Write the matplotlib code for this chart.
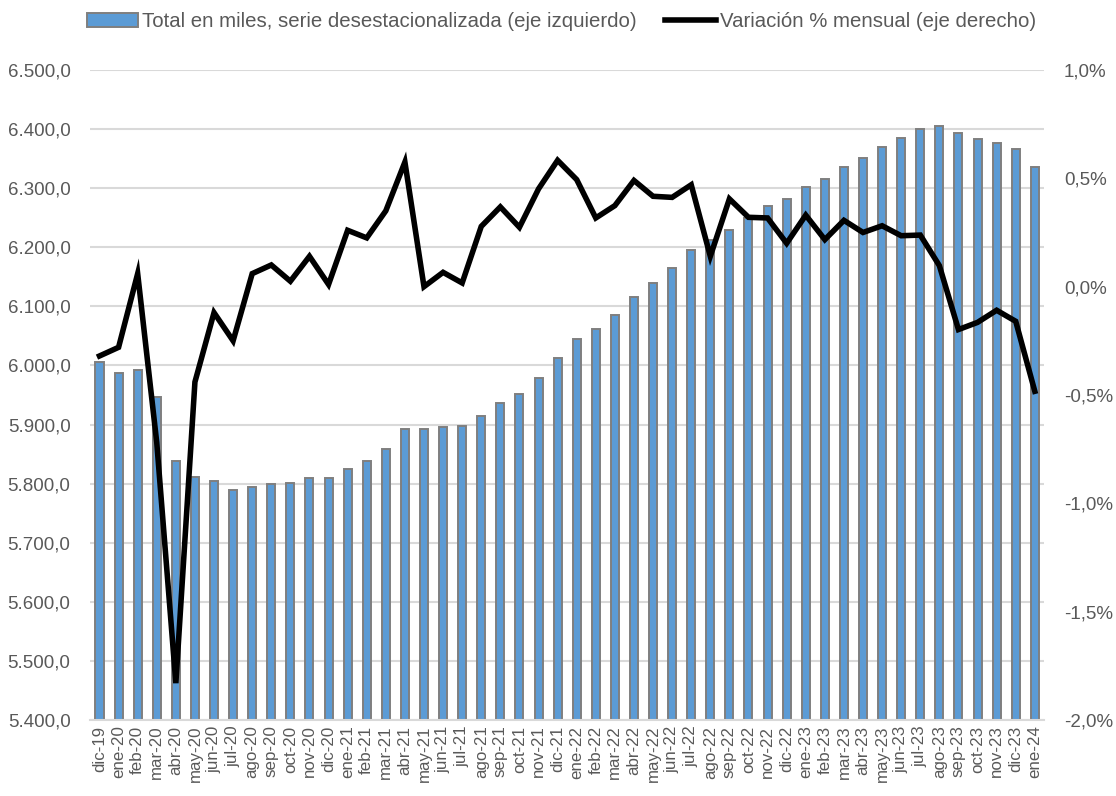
import matplotlib
matplotlib.use("Agg")
import matplotlib.pyplot as plt
from matplotlib.ticker import FuncFormatter, MultipleLocator
from matplotlib.patches import Patch
from matplotlib.lines import Line2D

plt.rcParams['font.family'] = ['Liberation Sans', 'DejaVu Sans']

# months dic-19 .. ene-24
months = ["dic-19",
          "ene-20", "feb-20", "mar-20", "abr-20", "may-20", "jun-20",
          "jul-20", "ago-20", "sep-20", "oct-20", "nov-20", "dic-20",
          "ene-21", "feb-21", "mar-21", "abr-21", "may-21", "jun-21",
          "jul-21", "ago-21", "sep-21", "oct-21", "nov-21", "dic-21",
          "ene-22", "feb-22", "mar-22", "abr-22", "may-22", "jun-22",
          "jul-22", "ago-22", "sep-22", "oct-22", "nov-22", "dic-22",
          "ene-23", "feb-23", "mar-23", "abr-23", "may-23", "jun-23",
          "jul-23", "ago-23", "sep-23", "oct-23", "nov-23", "dic-23",
          "ene-24"]

# total en miles, serie desestacionalizada (left axis)
total = [6005,
         5988, 5993, 5946, 5838, 5811, 5805,
         5790, 5794, 5799, 5801, 5809, 5809,
         5824, 5838, 5858, 5892, 5892, 5896,
         5897, 5914, 5936, 5951, 5978, 6013,
         6044, 6062, 6085, 6115, 6140, 6165,
         6195, 6212, 6229, 6250, 6269, 6282,
         6302, 6316, 6336, 6351, 6370, 6385,
         6400, 6406, 6394, 6383, 6377, 6366,
         6335]

# variacion % mensual (right axis)
var_pct = [-0.32,
           -0.28, 0.06, -0.72, -1.83, -0.44, -0.12,
           -0.25, 0.06, 0.10, 0.025, 0.14, 0.01,
           0.26, 0.225, 0.35, 0.575, 0.0, 0.066,
           0.017, 0.278, 0.368, 0.274, 0.451, 0.583,
           0.494, 0.317, 0.374, 0.49, 0.417, 0.412,
           0.47, 0.14, 0.405, 0.32, 0.317, 0.20,
           0.33, 0.217, 0.306, 0.25, 0.281, 0.235,
           0.238, 0.097, -0.198, -0.165, -0.109, -0.16,
           -0.483]

txt = '#595959'
x = range(len(months))

fig = plt.figure(figsize=(11.16, 7.96), dpi=100)
ax = fig.add_axes([0.0806, 0.0955, 0.8552, 0.8166])

ax.bar(x, total, width=0.42, color='#5B9BD5', edgecolor='#7F7F7F', linewidth=1.4, zorder=2)
ax.set_ylim(5400, 6500)
ax.set_xlim(-0.5, len(months) - 0.5)
ax.yaxis.set_major_locator(MultipleLocator(100))
ax.yaxis.set_major_formatter(FuncFormatter(lambda v, p: f"{v:,.1f}".replace(",", "X").replace(".", ",").replace("X", ".")))
ax.grid(axis='y', color='#D9D9D9', linewidth=1.5, zorder=0)
ax.set_axisbelow(True)
ax.set_xticks(list(x))
ax.set_xticklabels(months, rotation=90, fontsize=12.2, color=txt)
ax.tick_params(axis='y', labelsize=13.5, colors=txt, length=0, pad=14)
ax.tick_params(axis='x', length=0, pad=4)
for s in ['top', 'right', 'left']:
    ax.spines[s].set_visible(False)
ax.spines['bottom'].set_color('#D9D9D9')
ax.spines['bottom'].set_linewidth(1.5)

ax2 = ax.twinx()
ax2.plot(x, var_pct, color='black', linewidth=4.0, zorder=3, solid_joinstyle='miter')
ax2.set_ylim(-2.0, 1.0)
ax2.yaxis.set_major_locator(MultipleLocator(0.5))
ax2.yaxis.set_major_formatter(FuncFormatter(lambda v, p: f"{v:.1f}%".replace(".", ",")))
ax2.tick_params(axis='y', labelsize=13.5, colors=txt, length=0, pad=14)
for s in ['top', 'right', 'left', 'bottom']:
    ax2.spines[s].set_visible(False)

handles = [Patch(facecolor='#5B9BD5', edgecolor='#7F7F7F', linewidth=1.4),
           Line2D([0], [0], color='black', linewidth=4.0)]
labels = ["Total en miles, serie desestacionalizada (eje izquierdo)",
          "Variación % mensual (eje derecho)"]
fig.legend(handles, labels, loc='upper center', bbox_to_anchor=(0.503, 1.008), ncol=2,
           frameon=False, fontsize=14.7, labelcolor=txt, handlelength=2.5,
           handletextpad=0.2, columnspacing=1.4)

fig.savefig('out.png', dpi=100)
